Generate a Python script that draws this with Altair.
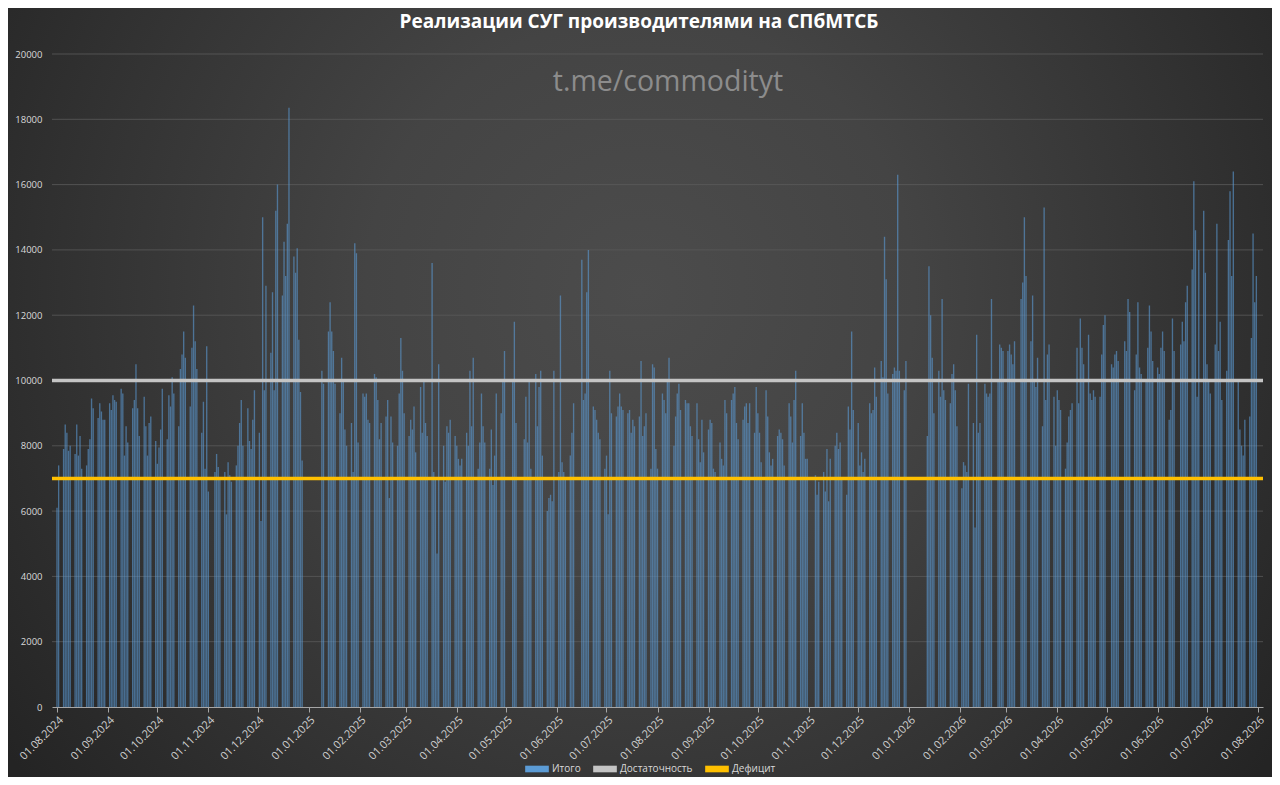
import altair as alt
import pandas as pd

title_text = "Реализации СУГ производителями на СПбМТСБ"
watermark_text = "t.me/commodityt"
bar_series = "Итого"
line_series = ["Достаточность", "Дефицит"]
line_levels = [10000, 7000]
series_order = ["Итого", "Достаточность", "Дефицит"]
series_colors = ["#5b9bd5", "#c4c4c4", "#ffc000"]
y_ticks = list(range(0, 20001, 2000))
x_tick_months = [(2024, m) for m in range(8, 13)] + [(2025, m) for m in range(1, 13)] + [(2026, m) for m in range(1, 9)]

holidays = [
    "2024-11-04", "2024-12-30", "2024-12-31",
    "2025-01-01", "2025-01-02", "2025-01-03", "2025-01-06", "2025-01-07", "2025-01-08",
    "2025-05-01", "2025-05-02", "2025-05-08", "2025-05-09", "2025-06-12", "2025-06-13",
    "2025-11-03", "2025-11-04", "2025-12-31",
    "2026-01-01", "2026-01-02", "2026-01-05", "2026-01-06", "2026-01-07", "2026-01-08", "2026-01-09",
    "2026-02-23", "2026-03-09", "2026-05-01", "2026-05-11", "2026-06-12",
]
extra_days = ["2024-12-28"]

aug_2024 = [6100, 7400, 7900, 8650, 8400, 7850, 8000, 7750, 8650, 7700, 8300, 7300, 7400, 7900, 8200, 9450, 9150, 8850, 9300, 9050, 8800, 8800]
sep_2024 = [9300, 9100, 9550, 9400, 9350, 9750, 9600, 7700, 8600, 8100, 9150, 9400, 10500, 9150, 8300, 9500, 8600, 7700, 8700, 8900, 8150]
oct_2024 = [7450, 7950, 8500, 9750, 8200, 9550, 9200, 10100, 9600, 8600, 10350, 10800, 11500, 10700, 9200, 11000, 12300, 11200, 10350, 8400, 9350, 7300, 11050]
nov_2024 = [6600, 7200, 7750, 7350, 7000, 7200, 5900, 7500, 7100, 6900, 7400, 8000, 8700, 9400, 8000, 9150, 8150, 7900, 8800, 9700]
dec_2024 = [8400, 5700, 15000, 9700, 12900, 10850, 12700, 9700, 15200, 16000, 12600, 14250, 13200, 14800, 18350, 13800, 13300, 14050, 11250, 9650, 7550]
jan_2025 = [10300, 9900, 11500, 12400, 11500, 10900, 9900, 9000, 10700, 10000, 8500, 8000, 8700, 7200, 14200, 13900, 8100]
feb_2025 = [9600, 9500, 9600, 8800, 8700, 10200, 10100, 9400, 8200, 8700, 8900, 9400, 6400, 8900, 8100, 8000, 9600, 11300, 10300, 9000]
mar_2025 = [8300, 8800, 8500, 9200, 7800, 9800, 8400, 10000, 8700, 8300, 13600, 7200, 7000, 4700, 10500, 8000, 6900, 8600, 8400, 8800, 8300]
apr_2025 = [8000, 7600, 7400, 7600, 8400, 8000, 10300, 8600, 10700, 7300, 8100, 9600, 8600, 8100, 7300, 8500, 6800, 7700, 9600, 9000, 10000, 10900]
may_2025 = [10000, 11800, 8700, 8200, 9500, 8100, 10000, 7300, 10200, 8600, 9800, 10300, 7700, 6000, 6400, 6500, 6300, 10300]
jun_2025 = [7200, 12600, 7500, 7200, 7000, 7700, 8400, 9300, 13700, 9400, 9600, 12700, 14000, 9200, 9100, 8800, 8400, 8200, 7300]
jul_2025 = [7700, 5900, 10300, 9000, 8900, 9200, 9600, 9200, 9100, 9000, 9100, 8400, 8800, 8600, 8900, 10600, 8300, 8600, 9000, 7300, 10500, 10400, 7900]
aug_2025 = [7300, 9600, 9400, 9000, 10000, 10700, 8000, 8900, 9600, 9900, 9100, 9400, 9300, 9300, 8600, 8300, 9300, 8200, 7500, 8800, 7800]
sep_2025 = [8500, 8800, 8700, 7300, 7200, 8100, 7600, 7400, 9400, 9000, 9400, 9600, 9800, 8700, 8200, 8800, 9200, 9300, 8700, 9300, 8400, 9800]
oct_2025 = [9000, 8400, 7500, 9700, 8900, 7800, 7400, 7600, 8300, 8500, 8400, 8200, 7400, 9300, 8900, 8100, 9400, 10300, 8300, 9300, 8400, 7600, 7600]
nov_2025 = [7100, 6500, 6900, 7200, 6600, 7900, 6300, 7600, 8000, 8400, 7900, 8100, 7000, 6500, 9200, 8500, 11500, 9100]
dec_2025 = [8700, 7400, 7800, 7200, 7600, 9300, 9000, 9100, 10400, 9500, 10600, 10100, 14400, 13100, 9600, 10200, 10400, 10300, 16300, 10300, 9700, 10600]
jan_2026 = [8300, 13500, 12000, 10700, 9000, 10300, 9500, 12500, 9700, 9400, 9300, 10200, 10500, 9700, 8600]
feb_2026 = [6700, 7500, 7400, 7200, 9900, 8700, 5500, 11400, 8400, 8700, 9900, 9600, 9500, 9600, 12500, 10000, 11100, 11000, 10900]
mar_2026 = [10900, 11100, 10800, 10500, 11200, 12500, 13000, 15000, 13200, 11200, 12600, 10000, 9800, 10700, 8600, 15300, 9400, 10800, 11100, 9500, 8000]
apr_2026 = [9700, 9400, 9100, 7300, 8100, 8900, 9100, 9300, 11000, 9300, 11900, 11000, 10500, 11400, 9600, 9400, 9700, 9500, 9500, 10800, 11700, 12000]
may_2026 = [10500, 10400, 10800, 10900, 10600, 11200, 10900, 12500, 12100, 9700, 10800, 12400, 10400, 10200, 10000, 11000, 12300, 11500, 10600]
jun_2026 = [10400, 10200, 11000, 11500, 10900, 8800, 9100, 11900, 10900, 11100, 11800, 11200, 12400, 12900, 13400, 16100, 14600, 9500, 14000, 15200, 13300]
jul_2026 = [10500, 10000, 9600, 11100, 14800, 10900, 11800, 9400, 10300, 14300, 15800, 13200, 16400, 10000, 8500, 8000, 7700, 8800, 8900, 11300, 14500, 12400, 13200]

months = [
    ("2024-08", aug_2024), ("2024-09", sep_2024), ("2024-10", oct_2024), ("2024-11", nov_2024),
    ("2024-12", dec_2024), ("2025-01", jan_2025), ("2025-02", feb_2025), ("2025-03", mar_2025),
    ("2025-04", apr_2025), ("2025-05", may_2025), ("2025-06", jun_2025), ("2025-07", jul_2025),
    ("2025-08", aug_2025), ("2025-09", sep_2025), ("2025-10", oct_2025), ("2025-11", nov_2025),
    ("2025-12", dec_2025), ("2026-01", jan_2026), ("2026-02", feb_2026), ("2026-03", mar_2026),
    ("2026-04", apr_2026), ("2026-05", may_2026), ("2026-06", jun_2026), ("2026-07", jul_2026),
]

hol = set(pd.to_datetime(holidays))
extra = set(pd.to_datetime(extra_days))
rows = []
for ym, vals in months:
    start = pd.Timestamp(ym + "-01")
    end = start + pd.offsets.MonthEnd(0)
    days = [d for d in pd.date_range(start, end) if (d.weekday() < 5 and d not in hol) or d in extra]
    for d, v in zip(days, vals):
        rows.append({"date": d, "value": v, "series": bar_series})
bars_df = pd.DataFrame(rows)
lines_df = pd.DataFrame({"series": line_series, "value": line_levels})
grid_df = pd.DataFrame({"value": y_ticks[1:]})

W, H = 1211, 653
PAD = {"left": 44, "top": 46, "right": 9, "bottom": 70}

xscale = alt.Scale(domain=[alt.DateTime(year=2024, month=8, date=1), alt.DateTime(year=2026, month=8, date=1)], nice=False)
yscale = alt.Scale(domain=[0, 20000], nice=False)
cscale = alt.Scale(domain=series_order, range=series_colors)

y_axis = alt.Axis(
    values=y_ticks, format="d", grid=False, domain=False, ticks=False, labelPadding=10,
    labelFontSize=9.5, labelFont="Open Sans", labelColor="#d9d9d9", title=None, zindex=1,
)

bg = alt.Chart(pd.DataFrame({"k": [0]})).mark_rect(
    fill={
        "gradient": "radial",
        "x1": 0.5, "y1": 0.42, "x2": 0.5, "y2": 0.42, "r1": 0, "r2": 0.62,
        "stops": [
            {"offset": 0, "color": "#4c4c4c"},
            {"offset": 0.35, "color": "#444444"},
            {"offset": 0.7, "color": "#333333"},
            {"offset": 1, "color": "#242424"},
        ],
    }
).encode(x=alt.value(-PAD["left"]), x2=alt.value(W + PAD["right"]), y=alt.value(-PAD["top"]), y2=alt.value(H + PAD["bottom"]))

grid = alt.Chart(grid_df).mark_rule(color="#5a5a5a", strokeWidth=0.8).encode(
    y=alt.Y("value:Q", scale=yscale, axis=y_axis)
)

bars = alt.Chart(bars_df).mark_bar(width=1.35, opacity=0.6).encode(
    x=alt.X("date:T", scale=xscale, axis=alt.Axis(
        values=[alt.DateTime(year=y, month=m, date=1) for y, m in x_tick_months],
        format="%d.%m.%Y", labelAngle=-45, labelFontSize=11, labelFont="Open Sans",
        labelColor="#d0d0d0", domainColor="#a6a6a6", tickColor="#a6a6a6", tickSize=5,
        grid=False, title=None, labelPadding=2, zindex=1, labelOverlap=False,
    )),
    y=alt.Y("value:Q", scale=yscale, axis=y_axis),
    color=alt.Color("series:N", scale=cscale, legend=alt.Legend(
        orient="none", legendX=473, legendY=703, direction="horizontal", title=None,
        symbolType="M-1,-0.28H1V0.28H-1Z", symbolSize=560, symbolStrokeWidth=0,
        labelColor="#d9d9d9", labelFontSize=10, labelFont="Open Sans", columnPadding=12,
        labelOffset=3, symbolOpacity=1,
    )),
)

rules = alt.Chart(lines_df).mark_rule(strokeWidth=3.5).encode(
    y=alt.Y("value:Q", scale=yscale, axis=y_axis),
    color=alt.Color("series:N", scale=cscale, legend=None),
)

title_layer = alt.Chart(pd.DataFrame({"t": [title_text]})).mark_text(
    font="Open Sans", fontSize=19, fontWeight="bold", color="#ffffff", baseline="middle", align="center"
).encode(x=alt.value(587), y=alt.value(-32), text="t:N")

watermark = alt.Chart(pd.DataFrame({"t": [watermark_text]})).mark_text(
    font="Open Sans", fontSize=28.5, color="#8c8c8c", baseline="middle", align="center"
).encode(x=alt.value(616), y=alt.value(28), text="t:N")

chart = alt.layer(bg, grid, bars, rules, watermark, title_layer).properties(
    width=W, height=H, background="#2a2a2a", padding=PAD,
    autosize=alt.AutoSizeParams(type="none"),
).configure_view(stroke=None)

chart.save("out.html", embed_options={"renderer": "svg", "actions": False})
